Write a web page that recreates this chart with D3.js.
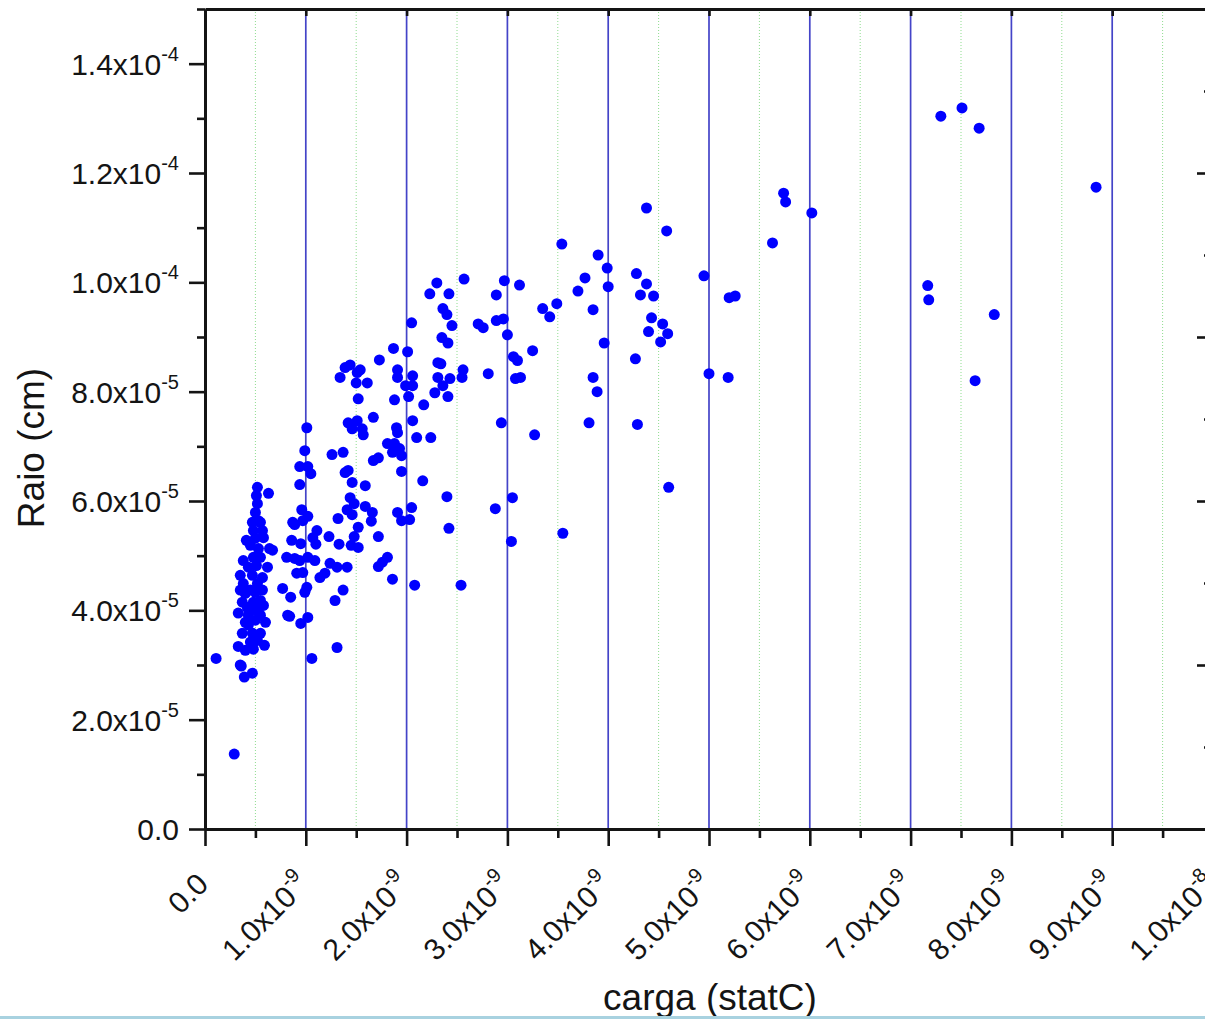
<!DOCTYPE html>
<html lang="pt">

<head>
  <meta charset="utf-8">
  <title>Raio x carga</title>
  <script src="https://cdnjs.cloudflare.com/ajax/libs/d3/7.8.5/d3.min.js"></script>
  <style>
    body { margin: 0; background: #fff; }
    svg { display: block; font-family: "Liberation Sans", Arial, sans-serif; }
  </style>
</head>

<body>

  <div id="chart"></div>

  <script>
    // carga in units of 1e-9 statC, raio in units of 1e-5 cm (rows line up)
    const carga = [
      0.11, 0.29, 0.33, 0.36, 0.39, 0.47, 0.48, 0.52, 0.51, 0.63,
      0.52, 0.50, 0.47, 0.55, 0.48, 0.57, 0.50, 0.58, 0.64, 0.67,
      0.38, 0.48, 0.55, 0.43, 0.62, 0.35, 0.47, 0.57, 0.38, 0.52,
      0.40, 0.50, 0.37, 0.48, 0.55, 0.42, 0.52, 0.33, 0.43, 0.55,
      0.40, 0.60, 0.37, 0.47, 0.55, 0.45, 0.52, 0.35, 0.45, 0.53,
      0.45, 0.57, 0.43, 0.50, 0.51, 0.41, 0.53, 0.58, 0.45, 0.35,
      0.59, 0.40,
      0.81, 0.77, 0.85, 0.82, 0.84, 0.95, 1.02, 1.31, 1.06, 1.01,
      0.99, 1.29, 1.14, 1.19, 1.24, 1.31, 1.41, 0.94, 1.09, 0.89,
      1.02, 0.91, 0.97, 0.86, 0.95, 1.07, 1.10, 1.11, 1.23, 0.87,
      0.97, 0.96, 1.02, 0.89, 0.94, 0.94, 1.02, 1.05, 0.99, 1.01,
      1.26, 1.37, 1.32, 1.33, 1.37, 1.39, 1.42, 1.46, 1.59, 1.44,
      1.48, 1.41, 1.46, 1.59, 1.66, 1.65, 1.52, 1.48, 1.45, 1.52,
      1.72, 1.72, 1.76, 1.81, 1.86, 1.91, 1.95, 2.03, 2.05, 1.95,
      1.88, 1.93, 1.95, 1.86, 1.81, 1.90, 1.91, 1.67, 1.72, 2.16,
      2.10, 2.24, 2.06, 1.42, 1.51, 1.46, 1.56, 1.57, 1.67, 2.08,
      1.34, 1.39, 1.44, 1.51, 1.54, 1.50, 1.61, 1.52, 1.73, 1.87,
      1.91, 1.91, 2.01, 2.06, 2.06, 1.99, 2.02, 1.88, 2.17, 2.28,
      2.41, 2.31, 2.36, 2.43, 2.31, 2.34, 2.35, 2.41, 2.45, 2.36,
      2.40, 2.05, 2.55, 2.56, 2.71, 2.76, 2.81, 2.30, 2.23, 2.42,
      2.57, 2.40, 2.42, 2.88, 3.05, 3.04, 3.55, 4.60, 2.54, 2.89,
      2.97, 3.12, 2.89, 2.96, 3.00, 3.06, 3.10, 3.08, 3.13, 3.25,
      2.94, 3.27, 3.54, 3.35, 3.42, 3.49, 3.70, 3.77, 3.90, 3.99,
      4.00, 3.85, 3.96, 3.85, 3.89, 3.81, 4.27, 4.29, 4.28, 4.38,
      4.32, 4.45, 4.43, 4.54, 4.40, 4.59, 4.52, 4.38, 4.58, 4.95,
      5.00, 5.20, 5.26, 5.19, 5.63, 5.74, 5.76, 6.02, 7.17, 7.18,
      7.30, 7.51, 7.68, 7.64, 7.83, 8.84
    ];

    const raio = [
      3.12, 1.37, 3.34, 2.98, 2.78, 2.85, 3.29, 6.25, 6.10, 6.14,
      5.95, 5.79, 5.61, 5.61, 5.46, 5.46, 5.32, 5.33, 5.13, 5.10,
      4.91, 4.97, 4.97, 4.79, 4.79, 4.64, 4.64, 4.60, 4.49, 4.49,
      4.31, 4.33, 4.15, 4.15, 4.18, 4.05, 4.00, 3.95, 3.91, 3.91,
      3.78, 3.78, 3.58, 3.58, 3.58, 3.42, 3.45, 3.00, 5.19, 5.13,
      4.37, 4.37, 3.73, 3.82, 4.82, 5.28, 5.64, 4.09, 4.00, 4.37,
      3.36, 3.27,
      4.97, 4.40, 4.24, 3.91, 3.89, 3.76, 3.87, 3.32, 3.12, 4.42,
      4.33, 4.18, 4.60, 4.68, 4.86, 4.79, 4.79, 4.91, 4.91, 4.95,
      4.97, 4.68, 4.69, 5.28, 5.22, 5.33, 5.21, 5.46, 5.35, 5.61,
      5.64, 5.84, 5.72, 5.57, 6.30, 6.63, 6.63, 6.50, 6.92, 7.34,
      6.85, 6.89, 5.68, 5.21, 4.37, 6.52, 6.56, 6.34, 6.28, 6.06,
      5.95, 5.84, 5.75, 5.90, 5.79, 5.63, 5.52, 5.35, 5.19, 5.15,
      5.35, 4.80, 4.88, 4.97, 4.57, 5.79, 5.64, 5.66, 5.88, 6.54,
      7.05, 6.96, 6.83, 6.89, 7.05, 7.34, 7.25, 6.74, 6.79, 6.37,
      7.16, 7.16, 7.47, 7.43, 7.47, 7.32, 7.32, 7.21, 7.53, 4.46,
      8.26, 8.44, 8.49, 8.35, 8.40, 8.16, 8.16, 7.87, 8.58, 8.79,
      8.40, 8.26, 8.73, 8.29, 8.11, 8.11, 7.91, 7.85, 7.76, 7.98,
      7.91, 8.26, 8.11, 8.24, 8.53, 8.51, 8.99, 8.89, 9.21, 9.52,
      9.41, 9.26, 8.26, 8.40, 9.24, 9.17, 8.33, 9.99, 9.79, 9.79,
      10.06, 6.08, 5.50, 5.86, 6.06, 5.26, 5.41, 6.25, 4.46, 9.77,
      10.03, 9.95, 9.30, 9.33, 9.04, 8.64, 8.57, 8.24, 8.26, 8.75,
      7.43, 7.21, 10.70, 9.52, 9.37, 9.61, 9.84, 10.08, 10.50, 10.26,
      9.92, 9.50, 8.89, 8.26, 8.00, 7.43, 8.60, 7.40, 10.16, 9.97,
      9.77, 9.75, 9.35, 9.24, 9.10, 9.06, 8.91, 11.36, 10.94, 10.12,
      8.33, 9.72, 9.75, 8.26, 10.72, 11.63, 11.47, 11.27, 9.94, 9.68,
      13.04, 13.19, 12.82, 8.20, 9.41, 11.74
    ];

    const xTicks = [0, 1, 2, 3, 4, 5, 6, 7, 8, 9, 10];      // x 1e-9
    const yTicks = [0, 2, 4, 6, 8, 10, 12, 14];             // x 1e-5
    const xTitle = 'carga (statC)';
    const yTitle = 'Raio (cm)';

    createChart('#chart', 1205, 1019);

    function tickLabel(v) {
      if (v === 0) return ['0.0', ''];
      const e = Math.floor(Math.log10(v) + 1e-9);
      const m = v / Math.pow(10, e);
      return [m.toFixed(1) + 'x10', String(e)];
    }

    function createChart(elementId, width, height) {

      const left = 205, right = 1213, top = 9, bottom = 829;
      const ink = '#141414';

      const data = carga.map((q, i) => ({ q: q * 1e-9, r: raio[i] * 1e-5 }));

      const svg = d3.select(elementId)
        .append('svg')
        .attr('width', width)
        .attr('height', height)
        .style('background-color', '#fff');

      // scales

      const xScale = d3.scaleLinear().domain([0, 1e-8]).range([left, right]);
      const yScale = d3.scaleLinear().domain([0, 1.5e-4]).range([bottom, top]);
      const yRight = d3.scaleLinear().domain([0, 5]).range([bottom, top]);

      const xMajor = xTicks.map(d => d * 1e-9);
      const xMinor = xTicks.slice(0, -1).map(d => (d + 0.5) * 1e-9);
      const yMajor = yTicks.map(d => d * 1e-5);
      const yMinor = yTicks.map(d => (d + 1) * 1e-5);

      // grid

      svg.append('g')
        .selectAll('line')
        .data(xMinor)
        .join('line')
        .attr('x1', d => xScale(d)).attr('x2', d => xScale(d))
        .attr('y1', top).attr('y2', bottom)
        .attr('stroke', '#8fdc8f')
        .attr('stroke-width', 1)
        .attr('stroke-dasharray', '1,2');

      svg.append('g')
        .selectAll('line')
        .data(xMajor.slice(1, -1))
        .join('line')
        .attr('x1', d => xScale(d)).attr('x2', d => xScale(d))
        .attr('y1', top).attr('y2', bottom)
        .attr('stroke', '#4444c8')
        .attr('stroke-width', 1.7);

      // points

      svg.append('g')
        .selectAll('circle')
        .data(data)
        .join('circle')
        .attr('cx', d => xScale(d.q))
        .attr('cy', d => yScale(d.r))
        .attr('r', 5.5)
        .attr('fill', '#0000ff');

      // axes

      function styleAxis(g) {
        g.select('.domain').attr('stroke', ink).attr('stroke-width', 3);
        g.selectAll('.tick line').attr('stroke', ink).attr('stroke-width', 2.6);
        g.selectAll('.tick text').remove();
      }

      svg.append('g')
        .attr('transform', `translate(0, ${bottom})`)
        .call(d3.axisBottom(xScale).tickValues(xMajor).tickSize(17).tickSizeOuter(0).tickFormat(''))
        .call(styleAxis);

      svg.append('g')
        .attr('transform', `translate(0, ${bottom})`)
        .call(d3.axisBottom(xScale).tickValues(xMinor).tickSize(9).tickSizeOuter(0).tickFormat(''))
        .call(styleAxis);

      svg.append('g')
        .attr('transform', `translate(${left}, 0)`)
        .call(d3.axisLeft(yScale).tickValues(yMajor).tickSize(16).tickSizeOuter(0).tickFormat(''))
        .call(styleAxis);

      svg.append('g')
        .attr('transform', `translate(${left}, 0)`)
        .call(d3.axisLeft(yScale).tickValues(yMinor).tickSize(8).tickSizeOuter(0).tickFormat(''))
        .call(styleAxis);

      // top frame with inward ticks

      svg.append('g')
        .attr('transform', `translate(0, ${top})`)
        .call(d3.axisTop(xScale).tickValues(xMajor.slice(1, -1)).tickSize(-7).tickSizeOuter(0).tickFormat(''))
        .call(styleAxis);

      // right frame with inward ticks

      svg.append('g')
        .attr('transform', `translate(${right}, 0)`)
        .call(d3.axisLeft(yRight).tickValues([1, 2, 3, 4]).tickSize(16).tickSizeOuter(0).tickFormat(''))
        .call(styleAxis);

      svg.append('g')
        .attr('transform', `translate(${right}, 0)`)
        .call(d3.axisLeft(yRight).tickValues([0.5, 1.5, 2.5, 3.5, 4.5]).tickSize(9).tickSizeOuter(0).tickFormat(''))
        .call(styleAxis);

      // y tick labels

      const yLab = svg.append('g')
        .selectAll('text')
        .data(yMajor)
        .join('text')
        .attr('x', 179)
        .attr('y', d => yScale(d))
        .attr('dy', '0.37em')
        .attr('text-anchor', 'end')
        .attr('fill', ink)
        .style('font-size', '30px');

      yLab.append('tspan').text(d => tickLabel(d)[0]);
      yLab.append('tspan')
        .attr('dy', -14)
        .style('font-size', '20px')
        .text(d => tickLabel(d)[1]);

      // x tick labels (the last one runs off the page, as in the original)

      const xLab = svg.append('g')
        .selectAll('text')
        .data(xMajor)
        .join('text')
        .attr('transform', d => `translate(${xScale(d) + 5}, ${bottom + 57}) rotate(-45)`)
        .attr('text-anchor', 'end')
        .attr('fill', ink)
        .style('font-size', '30px');

      xLab.append('tspan').text(d => tickLabel(d)[0]);
      xLab.append('tspan')
        .attr('dy', -14)
        .style('font-size', '20px')
        .text(d => tickLabel(d)[1]);

      // axis titles

      svg.append('text')
        .attr('x', 710)
        .attr('y', 1010)
        .attr('text-anchor', 'middle')
        .attr('fill', ink)
        .style('font-size', '37px')
        .text(xTitle);

      svg.append('text')
        .attr('transform', `translate(44, ${(top + bottom) / 2 + 29}) rotate(-90)`)
        .attr('text-anchor', 'middle')
        .attr('fill', ink)
        .style('font-size', '37px')
        .text(yTitle);

      // thin strip at the page bottom

      svg.append('rect')
        .attr('x', 0).attr('y', height - 3)
        .attr('width', width).attr('height', 3)
        .attr('fill', '#a8d2e0');
    }
  </script>

</body>

</html>
